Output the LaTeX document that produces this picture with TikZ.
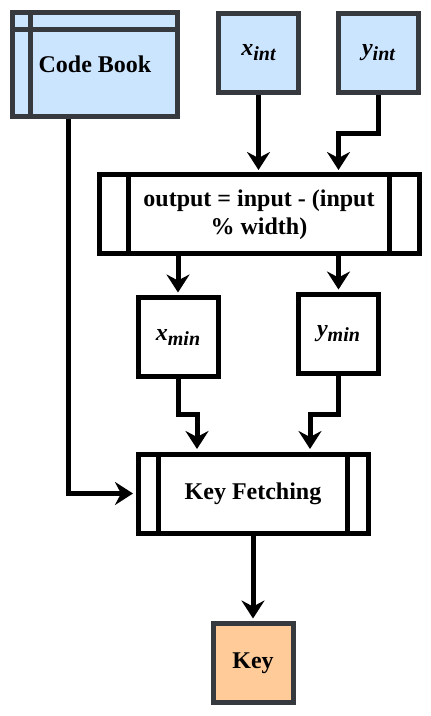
\documentclass[tikz,border=0pt]{standalone}
\usepackage{fontspec}
\setmainfont{Liberation Serif}
\usetikzlibrary{arrows.meta}
\definecolor{boxblue}{HTML}{CCE5FF}
\definecolor{boxorange}{HTML}{FFCC99}
\definecolor{boxgray}{HTML}{36393D}
\newcommand{\subvar}[2]{\textbf{\textit{#1\raisebox{-2.5pt}{\fontsize{10}{12}\selectfont #2}}}}

\begin{document}
\begin{tikzpicture}[x=0.5pt, y=-0.5pt,
  font=\fontsize{12}{14}\selectfont\bfseries,
  box/.style={draw, line width=2.5pt, minimum width=40pt, minimum height=39.5pt, inner sep=0pt},
  inbox/.style={box, fill=boxblue, draw=boxgray},
  arr/.style={line width=2.5pt, shorten >=1.25pt, -{Stealth[length=9pt,width=11.5pt,inset=3pt]}}]
\useasboundingbox (0,0) rectangle (431,716);

\node[inbox, minimum width=82.5pt, minimum height=52pt] (cb) at (95,64.5) {Code Book};
\draw[boxgray, line width=2.5pt] ([xshift=10pt]cb.north west) -- ([xshift=10pt]cb.south west);
\draw[boxgray, line width=2.5pt] ([yshift=-10pt]cb.north west) -- ([yshift=-10pt]cb.north east);

\node[inbox] (xint) at (258.5,53) {\subvar{x}{int}};
\node[inbox] (yint) at (378.5,53) {\subvar{y}{int}};

\node[box, minimum width=160pt, align=center] (proc) at (259,214.5) {output = input - (input\\\% width)};
\draw[line width=2.5pt] ([xshift=16pt]proc.north west) -- ([xshift=16pt]proc.south west);
\draw[line width=2.5pt] ([xshift=-16pt]proc.north east) -- ([xshift=-16pt]proc.south east);

\node[box] (xmin) at (178,337) {\subvar{x}{min}};
\node[box] (ymin) at (338.5,334) {\subvar{y}{min}};

\node[box, minimum width=115pt] (kf) at (253,493.5) {Key Fetching};
\draw[line width=2.5pt] ([xshift=11.5pt]kf.north west) -- ([xshift=11.5pt]kf.south west);
\draw[line width=2.5pt] ([xshift=-11.5pt]kf.north east) -- ([xshift=-11.5pt]kf.south east);

\node[box, fill=boxorange, draw=boxgray] (key) at (253,663) {Key};

\coordinate (ybend) at (338.5,134);
\coordinate (xmbend) at (197,414);
\coordinate (ymbend) at (310,414);

\draw[arr] ([xshift=-13.5pt]cb.south) |- (kf.west);
\draw[arr] (xint.south) -- (xint.south |- proc.north);
\draw[arr] (yint.south) |- (ybend) -- (ybend |- proc.north);
\draw[arr] (xmin.north |- proc.south) -- (xmin.north);
\draw[arr] (ymin.north |- proc.south) -- (ymin.north);
\draw[arr] (xmin.south) |- (xmbend) -- (xmbend |- kf.north);
\draw[arr] (ymin.south) |- (ymbend) -- (ymbend |- kf.north);
\draw[arr] (kf.south) -- (key.north);

\end{tikzpicture}
\end{document}
